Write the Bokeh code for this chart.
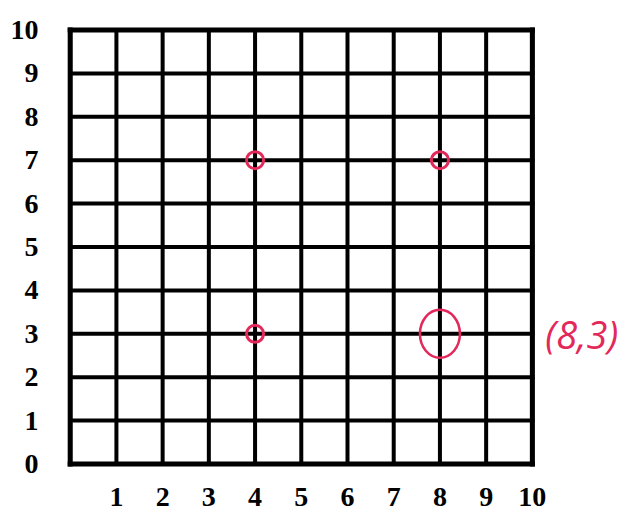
from bokeh.plotting import figure
from bokeh.models import Range1d, FixedTicker, Label
from bokeh.embed import file_html
from bokeh.resources import INLINE

# ---- data ----
grid_ticks = [0, 1, 2, 3, 4, 5, 6, 7, 8, 9, 10]
x_label_ticks = [1, 2, 3, 4, 5, 6, 7, 8, 9, 10]
y_label_ticks = [0, 1, 2, 3, 4, 5, 6, 7, 8, 9, 10]
point_x = [4, 8, 4]
point_y = [7, 7, 3]
highlight_x = [8]
highlight_y = [3]

RED = "#e3285a"
LABEL_FONT = "Liberation Serif"

lo, hi = grid_ticks[0], grid_ticks[-1]

p = figure(width=634, height=517,
           x_range=Range1d(-0.08, 12.21), y_range=Range1d(-0.08, 10.08),
           output_backend="svg", toolbar_location=None,
           min_border_left=66, min_border_right=0,
           min_border_top=26, min_border_bottom=50)
p.outline_line_color = None
p.background_fill_color = "white"
p.border_fill_color = "white"
p.xgrid.visible = False
p.ygrid.visible = False

# grid lines drawn as segments over the 0..10 square
p.segment(x0=grid_ticks, y0=[lo] * len(grid_ticks), x1=grid_ticks, y1=[hi] * len(grid_ticks),
          line_color="black", line_width=4, line_cap="square")
p.segment(x0=[lo] * len(grid_ticks), y0=grid_ticks, x1=[hi] * len(grid_ticks), y1=grid_ticks,
          line_color="black", line_width=4, line_cap="square")
# slightly heavier outer border
p.segment(x0=[lo, hi, lo, lo], y0=[lo, lo, lo, hi], x1=[lo, hi, hi, hi], y1=[hi, hi, lo, hi],
          line_color="black", line_width=5, line_cap="square")

# axes
p.xaxis.ticker = FixedTicker(ticks=x_label_ticks)
p.yaxis.ticker = FixedTicker(ticks=y_label_ticks)
for ax in (p.xaxis[0], p.yaxis[0]):
    ax.axis_line_color = None
    ax.major_tick_line_color = None
    ax.minor_tick_line_color = None
    ax.major_tick_out = 0
    ax.major_tick_in = 0
    ax.major_label_text_font = LABEL_FONT
    ax.major_label_text_font_size = "28px"
    ax.major_label_text_font_style = "bold"
    ax.major_label_text_color = "black"
p.xaxis.major_label_standoff = 20
p.yaxis.major_label_standoff = 28

# points
p.scatter(point_x, point_y, marker="circle", size=17, fill_color=None,
          line_color=RED, line_width=3)
p.ellipse(x=highlight_x, y=highlight_y, width=40, height=48,
          width_units="screen", height_units="screen",
          fill_color=None, line_color=RED, line_width=2.5)

lbl = Label(x=hi, y=highlight_y[0], x_offset=13,
            text=f"({highlight_x[0]},{highlight_y[0]})",
            text_color=RED, text_font="Open Sans",
            text_font_size="38px", text_baseline="middle",
            text_font_style="italic")
p.add_layout(lbl)

open("out.html", "w").write(file_html(p, INLINE))
